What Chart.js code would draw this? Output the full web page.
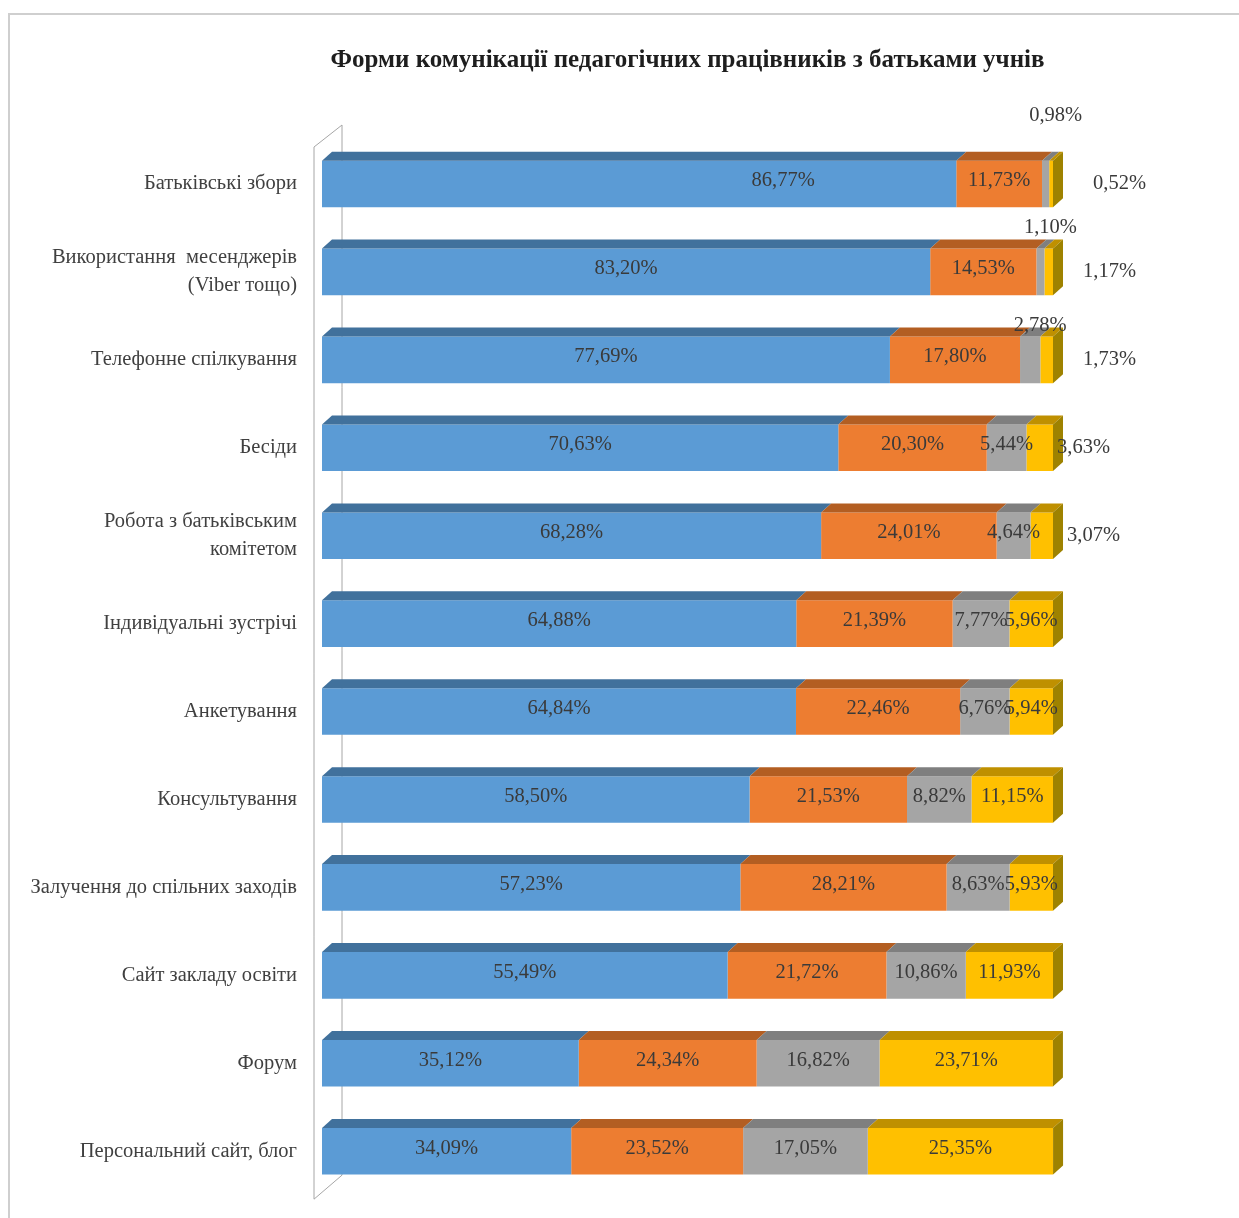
<!DOCTYPE html>
<html lang="uk">
<head>
<meta charset="utf-8">
<title>Форми комунікації педагогічних працівників з батьками учнів</title>
<script src="https://cdn.jsdelivr.net/npm/chart.js@4"></script>
<style>
    html, body { margin: 0; padding: 0; background: #fff; overflow: hidden; }
    #frame {
        position: absolute; left: 8px; top: 13px; width: 1300px; height: 1300px;
        border-top: 2px solid #cfcfcf; border-left: 2px solid #cfcfcf;
    }
    #chart { position: absolute; left: 0; top: 0; }
</style>
</head>
<body>
<div id="frame"></div>
<canvas id="chart" width="1239" height="1226"></canvas>
<script>
// categories (top to bottom)
const categories = [
    'Батьківські збори',
    ['Використання  месенджерів', '(Viber тощо)'],
    'Телефонне спілкування',
    'Бесіди',
    ['Робота з батьківським', 'комітетом'],
    'Індивідуальні зустрічі',
    'Анкетування',
    'Консультування',
    'Залучення до спільних заходів',
    'Сайт закладу освіти',
    'Форум',
    'Персональний сайт, блог'
];

// series values, %
const seriesA = [86.77, 83.20, 77.69, 70.63, 68.28, 64.88, 64.84, 58.50, 57.23, 55.49, 35.12, 34.09];
const seriesB = [11.73, 14.53, 17.80, 20.30, 24.01, 21.39, 22.46, 21.53, 28.21, 21.72, 24.34, 23.52];
const seriesC = [0.98, 1.10, 2.78, 5.44, 4.64, 7.77, 6.76, 8.82, 8.63, 10.86, 16.82, 17.05];
const seriesD = [0.52, 1.17, 1.73, 3.63, 3.07, 5.96, 5.94, 11.15, 5.93, 11.93, 23.71, 25.35];

const frontColors = ['#5B9BD5', '#ED7D31', '#A5A5A5', '#FFC000'];
const topColors = ['#41719C', '#B35E22', '#7F7F7F', '#BF9000'];
const sideColor = '#9E8200';
const DX = 10, DY = 9;
const serif = '"Liberation Serif", "Times New Roman", serif';
const labelFont = '20.5px ' + serif;

// the first blue label was moved by hand in the original
const labelNudge = { '0:0': 144 };

function fmt(v) {
    return v.toFixed(2).replace('.', ',') + '%';
}

// 3D faces, back wall and value labels
const depth3d = {
    id: 'depth3d',
    beforeDatasetsDraw(chart) {
        const ctx = chart.ctx;
        const a = chart.chartArea;
        const fx = a.left - 8, bx = a.left + 20;
        ctx.save();
        ctx.strokeStyle = '#a6a6a6';
        ctx.lineWidth = 1;
        ctx.beginPath();
        ctx.moveTo(fx, a.top + 7);
        ctx.lineTo(fx, a.bottom + 4);
        ctx.lineTo(bx, a.bottom - 20);
        ctx.lineTo(bx, a.top - 15);
        ctx.closePath();
        ctx.stroke();
        ctx.restore();
    },
    afterDatasetsDraw(chart) {
        const ctx = chart.ctx;
        const n = chart.data.datasets.length;
        ctx.save();
        chart.data.datasets.forEach((ds, di) => {
            const meta = chart.getDatasetMeta(di);
            meta.data.forEach((bar) => {
                const p = bar.getProps(['x', 'y', 'base', 'height'], true);
                const left = Math.min(p.base, p.x), right = Math.max(p.base, p.x);
                const top = p.y - p.height / 2, bottom = p.y + p.height / 2;
                ctx.fillStyle = topColors[di];
                ctx.beginPath();
                ctx.moveTo(left, top);
                ctx.lineTo(right, top);
                ctx.lineTo(right + DX, top - DY);
                ctx.lineTo(left + DX, top - DY);
                ctx.closePath();
                ctx.fill();
                if (di === n - 1) {
                    ctx.fillStyle = sideColor;
                    ctx.beginPath();
                    ctx.moveTo(right, top);
                    ctx.lineTo(right + DX, top - DY);
                    ctx.lineTo(right + DX, bottom - DY);
                    ctx.lineTo(right, bottom);
                    ctx.closePath();
                    ctx.fill();
                }
            });
        });

        // value labels
        ctx.font = labelFont;
        ctx.fillStyle = '#3a3a3a';
        ctx.textBaseline = 'middle';
        chart.data.datasets.forEach((ds, di) => {
            const meta = chart.getDatasetMeta(di);
            meta.data.forEach((bar, i) => {
                const v = ds.data[i];
                const p = bar.getProps(['x', 'y', 'base', 'height'], true);
                const left = Math.min(p.base, p.x), right = Math.max(p.base, p.x);
                const top = p.y - p.height / 2;
                let x = (left + right) / 2 + (labelNudge[di + ':' + i] || 0), y = p.y - 3;
                ctx.textAlign = 'center';
                if (di === 2 && v < 3) {
                    x += DX;
                    y = top - DY - (v < 1 ? 36 : (v < 2 ? 12 : 2));
                } else if (di === 3 && v < 4) {
                    ctx.textAlign = 'left';
                    x = right + DX + (v < 1 ? 30 : (v < 2 ? 20 : (v < 3.5 ? 4 : -6)));
                    y = p.y;
                }
                ctx.fillText(fmt(v), x, y);
            });
        });
        ctx.restore();
    }
};

new Chart(document.getElementById('chart'), {
    type: 'bar',
    data: {
        labels: categories,
        datasets: [
            { label: 'A', data: seriesA, backgroundColor: frontColors[0] },
            { label: 'B', data: seriesB, backgroundColor: frontColors[1] },
            { label: 'C', data: seriesC, backgroundColor: frontColors[2] },
            { label: 'D', data: seriesD, backgroundColor: frontColors[3] }
        ]
    },
    options: {
        indexAxis: 'y',
        responsive: false,
        animation: false,
        datasets: {
            bar: { categoryPercentage: 1, barPercentage: 0.53, borderWidth: 0 }
        },
        layout: { padding: { left: 0, right: 186, top: 0, bottom: 0 } },
        plugins: {
            legend: { display: false },
            tooltip: { enabled: false },
            title: {
                display: true,
                fullSize: false,
                text: 'Форми комунікації педагогічних працівників з батьками учнів',
                color: '#1e1e1e',
                font: { family: serif, size: 25, weight: 'bold' },
                padding: { top: 46, bottom: 64 }
            }
        },
        scales: {
            x: { stacked: true, min: 0, max: 100, display: false },
            y: {
                stacked: true,
                grid: { display: false },
                border: { display: false },
                afterFit(scale) { scale.width = 322; },
                ticks: {
                    padding: 17,
                    color: '#404040',
                    font: { family: serif, size: 20.5, lineHeight: 1.35 }
                }
            }
        }
    },
    plugins: [depth3d]
});
</script>
</body>
</html>
